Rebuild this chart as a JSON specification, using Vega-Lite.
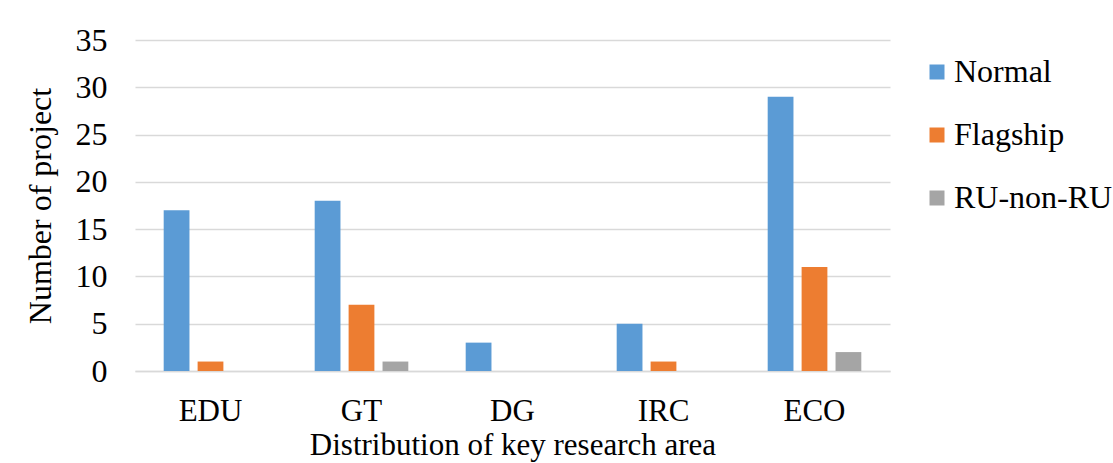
{
  "$schema": "https://vega.github.io/schema/vega-lite/v6.json",
  "width": 755,
  "height": 331,
  "autosize": {"type": "none"},
  "padding": {"left": 135, "top": 40, "right": 223, "bottom": 92},
  "background": "white",
  "config": {
    "font": "Liberation Serif",
    "axis": {"labelFont": "Liberation Serif", "titleFont": "Liberation Serif"},
    "legend": {"labelFont": "Liberation Serif"},
    "view": {"stroke": null}
  },
  "data": {
    "values": [
      {"area": "EDU", "type": "Normal", "count": 17},
      {"area": "EDU", "type": "Flagship", "count": 1},
      {"area": "EDU", "type": "RU-non-RU", "count": 0},
      {"area": "GT", "type": "Normal", "count": 18},
      {"area": "GT", "type": "Flagship", "count": 7},
      {"area": "GT", "type": "RU-non-RU", "count": 1},
      {"area": "DG", "type": "Normal", "count": 3},
      {"area": "DG", "type": "Flagship", "count": 0},
      {"area": "DG", "type": "RU-non-RU", "count": 0},
      {"area": "IRC", "type": "Normal", "count": 5},
      {"area": "IRC", "type": "Flagship", "count": 1},
      {"area": "IRC", "type": "RU-non-RU", "count": 0},
      {"area": "ECO", "type": "Normal", "count": 29},
      {"area": "ECO", "type": "Flagship", "count": 11},
      {"area": "ECO", "type": "RU-non-RU", "count": 2}
    ]
  },
  "mark": {"type": "bar"},
  "encoding": {
    "x": {
      "field": "area",
      "type": "nominal",
      "sort": ["EDU", "GT", "DG", "IRC", "ECO"],
      "scale": {"paddingInner": 0.38, "paddingOuter": 0.19},
      "axis": {
        "title": "Distribution of key research area",
        "labelAngle": 0,
        "labelFontSize": 31,
        "labelColor": "#000000",
        "labelPadding": 25,
        "titleFontSize": 31,
        "titleFontWeight": "normal",
        "titleColor": "#000000",
        "titlePadding": 4,
        "ticks": false,
        "domainColor": "#d9d9d9",
        "domainWidth": 1.5
      }
    },
    "xOffset": {
      "field": "type",
      "sort": ["Normal", "Flagship", "RU-non-RU"],
      "scale": {"paddingInner": 0.24, "paddingOuter": 0}
    },
    "y": {
      "field": "count",
      "type": "quantitative",
      "scale": {"domain": [0, 35]},
      "axis": {
        "title": "Number of project",
        "values": [0, 5, 10, 15, 20, 25, 30, 35],
        "labelFontSize": 32,
        "labelColor": "#000000",
        "labelPadding": 28,
        "titleFontSize": 32,
        "titleFontWeight": "normal",
        "titleColor": "#000000",
        "titlePadding": 18,
        "ticks": false,
        "domain": false,
        "gridColor": "#d9d9d9",
        "gridWidth": 1.5
      }
    },
    "color": {
      "field": "type",
      "type": "nominal",
      "sort": ["Normal", "Flagship", "RU-non-RU"],
      "scale": {
        "domain": ["Normal", "Flagship", "RU-non-RU"],
        "range": ["#5b9bd5", "#ed7d31", "#a5a5a5"]
      },
      "legend": {
        "title": null,
        "orient": "right",
        "offset": 15,
        "padding": 16,
        "labelFontSize": 32,
        "labelColor": "#000000",
        "labelOffset": 1,
        "labelLimit": 300,
        "symbolType": "square",
        "symbolSize": 225,
        "symbolStrokeWidth": 0,
        "rowPadding": 31
      }
    }
  }
}
